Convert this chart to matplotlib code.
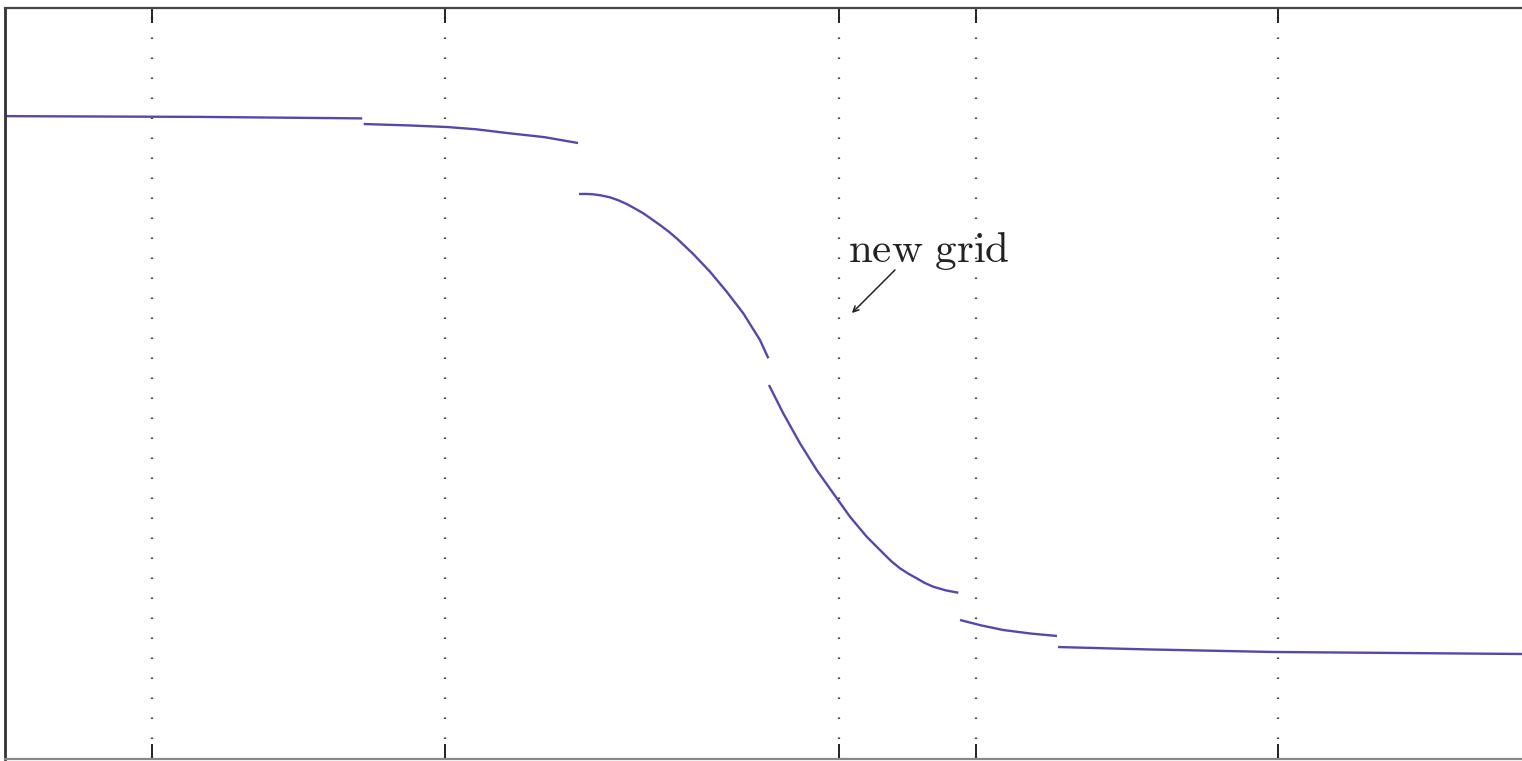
import numpy as np
import matplotlib
matplotlib.use("Agg")
import matplotlib.pyplot as plt

plt.rcParams['mathtext.fontset'] = 'cm'

# piecewise approximation, one piece per cell
seg_x = [
    [0.0, 1.28, 2.35],
    [2.36, 2.65, 2.91, 3.10, 3.30, 3.55, 3.77],
    [3.776, 3.822, 3.870, 3.920, 3.980, 4.035, 4.090, 4.140, 4.199, 4.250, 4.309,
     4.365, 4.419, 4.528, 4.638, 4.748, 4.857, 4.967, 5.022],
    [5.026, 5.120, 5.230, 5.340, 5.449, 5.559, 5.669, 5.778, 5.830, 5.888, 5.945,
     5.998, 6.050, 6.107, 6.190, 6.272],
    [6.283, 6.42, 6.566, 6.75, 6.921],
    [6.928, 7.5, 8.342, 10.0],
]
seg_y = [
    [8.56, 8.55, 8.53],
    [8.455, 8.437, 8.415, 8.385, 8.336, 8.28, 8.202],
    [7.523, 7.524, 7.519, 7.505, 7.479, 7.440, 7.390, 7.335, 7.266, 7.195, 7.110,
     7.025, 6.933, 6.724, 6.489, 6.222, 5.935, 5.579, 5.336],
    [4.980, 4.603, 4.204, 3.848, 3.538, 3.226, 2.960, 2.739, 2.635, 2.539, 2.465,
     2.406, 2.345, 2.294, 2.245, 2.214],
    [1.851, 1.780, 1.718, 1.67, 1.638],
    [1.491, 1.46, 1.425, 1.398],
]
grid_x = [0.967, 2.895, 5.49, 6.39, 8.375]

label = r'$\mathrm{new\ grid}$'
label_pos = (5.546, 6.62)
arrow_tail = (5.868, 6.538)
arrow_head = (5.559, 5.912)

fig = plt.figure(figsize=(15.22, 7.61), dpi=100)
ax = fig.add_axes([5 / 1522, 2 / 761, 1520 / 1522, 751 / 761])

for xs, ys in zip(seg_x, seg_y):
    ax.plot(xs, ys, color='#5548ad', lw=1.7, solid_capstyle='butt',
            solid_joinstyle='round')

for gx in grid_x:
    ax.axvline(gx, color='#444444', lw=1.6, ls=(0, (0.7, 8.3)), zorder=0)

ax.annotate('', xy=arrow_head, xytext=arrow_tail,
            arrowprops=dict(arrowstyle='->', color='#222222', lw=1.1))
ax.text(*label_pos, label, fontsize=31, color='#222222', ha='left', va='baseline')

ax.set_xlim(0, 10)
ax.set_ylim(0, 10)
ax.set_xticks(grid_x)
ax.set_yticks([])
ax.tick_params(axis='x', direction='in', length=11, width=1.4, color='#222222',
               top=True, bottom=True, labelbottom=False, labeltop=False)
ax.spines['right'].set_visible(False)
ax.spines['left'].set_linewidth(2.0)
ax.spines['left'].set_color('#333333')
ax.spines['top'].set_linewidth(1.6)
ax.spines['top'].set_color('#444444')
ax.spines['bottom'].set_linewidth(1.6)
ax.spines['bottom'].set_color('#888888')

fig.savefig('out.png', dpi=100)
